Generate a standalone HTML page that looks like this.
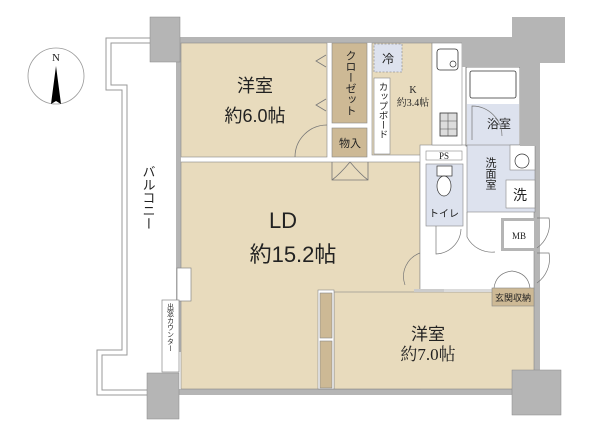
<!DOCTYPE html>
<html><head><meta charset="utf-8"><style>
html,body{margin:0;padding:0;background:#fff;}
svg{display:block;}
text{font-family:"Liberation Sans","Noto Sans CJK JP",sans-serif;fill:#222;}
.s{font-family:"Liberation Serif","Noto Serif CJK SC",serif;}
</style></head><body>
<svg width="600" height="433" viewBox="0 0 600 433" xmlns="http://www.w3.org/2000/svg">
<!-- compass -->
<circle cx="56" cy="76" r="28" fill="none" stroke="#999" stroke-width="0.8"/>
<text x="56" y="61" font-size="11" text-anchor="middle" class="s">N</text>
<polygon points="56,66 51,104 56,101 61,104" fill="#000"/>
<!-- balcony -->
<polyline points="180,38 106,38 106,90 122,90 122,350 97,350 97,395 150,395" fill="none" stroke="#999" stroke-width="1"/>
<polyline points="180,43 111,43 111,85 127,85 127,355 102,355 102,390 150,390" fill="none" stroke="#999" stroke-width="1"/>
<text x="148" y="165" font-size="13" text-anchor="start" writing-mode="tb">バルコニー</text>
<!-- walls outer -->
<rect x="178" y="37" width="340" height="6" fill="#b5b5b5"/>
<rect x="175" y="389" width="340" height="6" fill="#b5b5b5"/>
<rect x="176" y="42" width="5" height="310" fill="#b5b5b5"/>
<rect x="520" y="42" width="20" height="104" fill="#b5b5b5"/>
<rect x="534" y="140" width="6" height="230" fill="#b5b5b5"/>
<!-- rooms -->
<rect x="181" y="43" width="146" height="114" fill="#e8dbbd" stroke="#888" stroke-width="0.6"/>
<rect x="181" y="162" width="239" height="227" fill="#e8dbbd" stroke="#888" stroke-width="0.6"/>
<rect x="334" y="292" width="200" height="97" fill="#e8dbbd" stroke="#888" stroke-width="0.6"/>
<rect x="372" y="43" width="60" height="112" fill="#e8dbbd" stroke="#888" stroke-width="0.6"/>
<rect x="420" y="145" width="114" height="145" fill="#fff" stroke="#888" stroke-width="0.6"/>
<rect x="318" y="290" width="16" height="99" fill="#fff" stroke="#888" stroke-width="0.6"/>
<rect x="320" y="293" width="12" height="45" fill="#cdb995" stroke="#888" stroke-width="0.6"/>
<rect x="320" y="341" width="12" height="47" fill="#cdb995" stroke="#888" stroke-width="0.6"/>
<!-- closets -->
<rect x="332" y="43" width="35" height="80" fill="#cdb995" stroke="#888" stroke-width="0.6"/>
<text x="350" y="50" font-size="11" text-anchor="start" writing-mode="tb">クローゼット</text>
<rect x="332" y="128" width="35" height="29" fill="#cdb995" stroke="#888" stroke-width="0.6"/>
<text x="350" y="147" font-size="11" text-anchor="middle">物入</text>
<polyline points="326,55 316,61 326,67" fill="none" stroke="#777" stroke-width="0.8"/>
<polyline points="326,99 316,105 326,111" fill="none" stroke="#777" stroke-width="0.8"/>
<path d="M295,157 A32,32 0 0 1 327,125" fill="none" stroke="#777" stroke-width="0.8"/>
<path d="M332,162 v18 h36 v-18 M332,180 q8,-6 18,-18 M368,180 q-8,-6 -18,-18" fill="none" stroke="#777" stroke-width="0.8"/>
<!-- kitchen -->
<rect x="374" y="44" width="28" height="28" fill="#dde2ee" stroke="#999" stroke-width="0.8" stroke-dasharray="2,1.5"/>
<text x="388" y="63" font-size="12" text-anchor="middle">冷</text>
<rect x="374" y="78" width="16" height="76" fill="#fff" stroke="#888" stroke-width="0.6"/>
<text x="382" y="82" font-size="9.5" text-anchor="start" writing-mode="tb">カップボード</text>
<text x="413" y="93" font-size="10" text-anchor="middle" class="s">K</text>
<text x="413" y="106" font-size="10" text-anchor="middle" class="s">約3.4帖</text>
<rect x="432" y="43" width="30" height="102" fill="#fff" stroke="#888" stroke-width="0.6"/>
<rect x="437" y="49" width="21" height="21" rx="3" fill="#fff" stroke="#333" stroke-width="0.8"/>
<circle cx="453" cy="64" r="3" fill="none" stroke="#333" stroke-width="0.7"/>
<rect x="440" y="113" width="17" height="23" fill="#ddd" stroke="#333" stroke-width="0.8"/>
<g stroke="#555" stroke-width="0.6"><line x1="440" y1="121" x2="457" y2="121"/><line x1="440" y1="129" x2="457" y2="129"/><line x1="448" y1="113" x2="448" y2="136"/></g>
<!-- bath -->
<rect x="462" y="43" width="58" height="24" fill="#fff"/>
<rect x="466" y="67" width="54" height="79" fill="#fff" stroke="#555" stroke-width="0.7"/>
<rect x="470" y="71" width="46" height="27" rx="2" fill="#fff" stroke="#333" stroke-width="0.8"/>
<rect x="467" y="104" width="52" height="41" fill="#dde2ee"/>
<text x="499" y="128" font-size="12" text-anchor="middle">浴室</text>
<path d="M472,140 v-34 A30,30 0 0 1 502,136" fill="none" stroke="#777" stroke-width="0.7"/>
<!-- washroom -->
<rect x="467" y="145" width="68" height="67" fill="#dde2ee" stroke="#888" stroke-width="0.6"/>
<rect x="510" y="145" width="25" height="25" fill="#fff" stroke="#888" stroke-width="0.6"/>
<circle cx="522" cy="161" r="7" fill="none" stroke="#333" stroke-width="0.7"/>
<rect x="506" y="180" width="29" height="28" fill="#fff" stroke="#888" stroke-width="0.6"/>
<text x="520" y="200" font-size="14" text-anchor="middle">洗</text>
<text x="490" y="157" font-size="11" text-anchor="start" writing-mode="tb">洗面室</text>
<!-- PS and toilet -->
<rect x="426" y="151" width="36" height="9" fill="#fff" stroke="#888" stroke-width="0.6"/>
<text x="444" y="159" font-size="9" text-anchor="middle" class="s">PS</text>
<rect x="426" y="164" width="37" height="62" fill="#dde2ee" stroke="#888" stroke-width="0.6"/>
<rect x="437" y="166" width="15" height="10" fill="#fff" stroke="#333" stroke-width="0.7"/>
<ellipse cx="444" cy="186" rx="7" ry="10" fill="#fff" stroke="#333" stroke-width="0.7"/>
<text x="444" y="217" font-size="10" text-anchor="middle">トイレ</text>
<path d="M436,226 v28 a26,26 0 0 0 25,-25 M467,212 v25 a28,28 0 0 0 28,15" fill="none" stroke="#777" stroke-width="0.7"/>
<!-- MB -->
<rect x="501" y="218" width="36" height="33" fill="#b5b5b5"/>
<rect x="504" y="221" width="30" height="27" fill="#fff"/>
<text x="519" y="239" font-size="9" text-anchor="middle" class="s">MB</text>
<path d="M537,218 h12 a30,30 0 0 1 -12,30 M537,253 h12 a30,30 0 0 1 -12,30" fill="none" stroke="#777" stroke-width="0.7"/>
<path d="M405,285 a25,25 0 0 1 15,-32" fill="none" stroke="#777" stroke-width="0.7"/>
<!-- entry storage -->
<rect x="492" y="288" width="42" height="18" fill="#cdb995" stroke="#888" stroke-width="0.6"/>
<text x="513" y="301" font-size="9" text-anchor="middle">玄関収納</text>
<path d="M494,288 q2,-15 18,-17 q16,2 18,17" fill="none" stroke="#777" stroke-width="0.7"/>
<rect x="414" y="289" width="30" height="3" fill="#ccc"/>
<!-- counter near balcony -->
<rect x="177" y="268" width="14" height="33" fill="#fff" stroke="#888" stroke-width="0.7"/>
<rect x="162" y="300" width="17" height="72" fill="#fff" stroke="#888" stroke-width="0.7"/>
<text x="170" y="303" font-size="7" text-anchor="start" writing-mode="tb">出窓カウンター</text>
<!-- pillars -->
<rect x="150" y="17" width="30" height="45" fill="#b5b5b5" stroke="#888" stroke-width="0.5"/>
<path d="M512,17 H565 V63 H540 V146 H520 V67 H462 V38 H512 Z" fill="#b5b5b5"/>
<rect x="147" y="373" width="32" height="46" fill="#b5b5b5" stroke="#888" stroke-width="0.5"/>
<rect x="512" y="370" width="49" height="45" fill="#b5b5b5" stroke="#888" stroke-width="0.5"/>
<!-- labels -->
<text x="255" y="92" font-size="18" text-anchor="middle">洋室</text>
<text x="255" y="122" font-size="18" text-anchor="middle">約6.0帖</text>
<text x="283" y="228" font-size="22" text-anchor="middle">LD</text>
<text x="293" y="262" font-size="22" text-anchor="middle">約15.2帖</text>
<text x="428" y="340" font-size="17" text-anchor="middle">洋室</text>
<text x="428" y="360" font-size="17" text-anchor="middle" class="s">約7.0帖</text>
</svg>
</body></html>
